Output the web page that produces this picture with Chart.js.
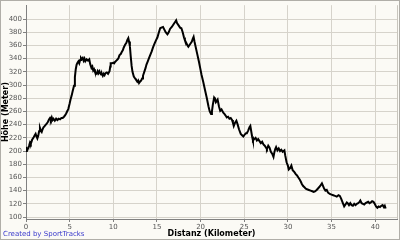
<!DOCTYPE html>
<html>
<head>
<meta charset="utf-8">
<script src="https://cdn.jsdelivr.net/npm/chart.js@4"></script>
<style>
  html, body { margin: 0; padding: 0; background: #fbfaf5; }
  #wrap { position: relative; width: 400px; height: 240px; }
  #credit { position: absolute; left: 3px; top: 230px; font: 7px "DejaVu Sans", sans-serif; color: #3a3acc; }
</style>
</head>
<body>
<div id="wrap">
  <canvas id="profil" width="400" height="240"></canvas>
  <div id="credit">Created by SportTracks</div>
</div>
<script>
// Höhenprofil
const km = [
  0.0, 0.1, 0.2, 0.35, 0.46, 0.55, 0.7, 0.85, 1.0, 1.1, 1.2, 1.3, 1.4, 1.5, 1.6, 1.7, 1.8, 1.9, 2.0, 2.1,
  2.2, 2.35, 2.5, 2.65, 2.75, 2.85, 2.95, 3.05, 3.15, 3.3, 3.45, 3.6, 3.75, 3.9, 4.05, 4.2, 4.35, 4.47, 4.6, 4.75,
  4.85, 5.0, 5.1, 5.23, 5.35, 5.5, 5.6, 5.7, 5.8, 5.9, 6.0, 6.1, 6.2, 6.3, 6.4, 6.5, 6.6, 6.7, 6.8, 6.95,
  7.1, 7.25, 7.35, 7.5, 7.6, 7.7, 7.8, 7.9, 8.0, 8.1, 8.2, 8.3, 8.4, 8.5, 8.6, 8.7, 8.8, 8.9, 9.0, 9.1,
  9.26, 9.4, 9.57, 9.65, 9.7, 9.85, 10.0, 10.1, 10.2, 10.35, 10.5, 10.6, 10.7, 10.85, 10.97, 11.1, 11.2, 11.35, 11.5, 11.6,
  11.72, 11.8, 11.9, 12.0, 12.1, 12.2, 12.35, 12.5, 12.6, 12.75, 12.85, 12.95, 13.06, 13.2, 13.3, 13.4, 13.55, 13.7, 13.8, 13.95,
  14.1, 14.25, 14.4, 14.55, 14.7, 14.8, 14.9, 15.05, 15.2, 15.37, 15.5, 15.7, 15.85, 16.0, 16.2, 16.35, 16.5, 16.7, 16.85, 17.0,
  17.1, 17.2, 17.3, 17.5, 17.65, 17.8, 17.95, 18.1, 18.2, 18.35, 18.5, 18.6, 18.75, 18.85, 19.0, 19.1, 19.2, 19.3, 19.4, 19.6,
  19.8, 19.95, 20.1, 20.3, 20.5, 20.7, 20.9, 21.05, 21.2, 21.3, 21.4, 21.55, 21.65, 21.75, 21.85, 21.95, 22.1, 22.25, 22.4, 22.6,
  22.75, 22.9, 23.0, 23.15, 23.3, 23.45, 23.6, 23.7, 23.8, 23.95, 24.1, 24.25, 24.4, 24.6, 24.75, 24.9, 25.05, 25.2, 25.3, 25.45,
  25.6, 25.7, 25.8, 25.9, 26.0, 26.15, 26.3, 26.45, 26.6, 26.75, 26.9, 27.05, 27.2, 27.35, 27.5, 27.6, 27.75, 27.9, 28.05, 28.2,
  28.35, 28.45, 28.55, 28.65, 28.8, 28.95, 29.1, 29.25, 29.4, 29.6, 29.7, 29.85, 30.0, 30.1, 30.25, 30.4, 30.55, 30.75, 30.9, 31.05,
  31.2, 31.35, 31.5, 31.6, 31.75, 31.9, 32.05, 32.2, 32.4, 32.6, 32.8, 32.95, 33.1, 33.3, 33.5, 33.7, 33.9, 34.0, 34.15, 34.3,
  34.45, 34.6, 34.8, 35.0, 35.2, 35.4, 35.6, 35.8, 35.95, 36.1, 36.3, 36.45, 36.6, 36.75, 36.85, 37.0, 37.15, 37.3, 37.45, 37.6,
  37.75, 37.9, 38.05, 38.2, 38.3, 38.45, 38.6, 38.75, 38.9, 39.05, 39.2, 39.35, 39.5, 39.65, 39.8, 39.95, 40.1, 40.25, 40.4, 40.55,
  40.7, 40.85, 41.0, 41.1, 41.2
];
const hoehe = [
  200, 204, 203, 208, 213, 211, 217, 220, 224, 226, 222, 219, 223, 230, 235, 231, 229, 233, 236, 237,
  239, 241, 244, 248, 250, 247, 251, 247, 249, 246, 249, 247, 249, 248, 250, 250, 252, 254, 257, 261,
  264, 272, 278, 284, 291, 299, 312, 324, 331, 334, 336, 333, 338, 341, 339, 341, 337, 340, 336, 339,
  337, 339, 332, 326, 328, 322, 324, 320, 318, 317, 321, 318, 321, 318, 316, 317, 314, 317, 315, 318,
  319, 317, 321, 328, 333, 333, 334, 333, 335, 337, 339, 341, 345, 347, 350, 353, 357, 361, 364, 368,
  371, 366, 359, 343, 329, 320, 313, 310, 308, 305, 307, 303, 305, 307, 310, 314, 320, 326, 331, 336,
  341, 346, 351, 357, 362, 365, 368, 372, 379, 386, 387, 388, 384, 380, 377, 380, 385, 388, 391, 394,
  396, 398, 394, 390, 387, 386, 380, 372, 368, 364, 360, 358, 361, 363, 366, 370, 373, 366, 360, 348,
  336, 326, 316, 305, 293, 281, 268, 260, 256, 260, 270, 281, 279, 274, 276, 278, 268, 261, 263, 258,
  256, 253, 251, 252, 249, 250, 247, 243, 238, 243, 246, 240, 233, 226, 224, 222, 225, 227, 227, 231,
  236, 238, 230, 222, 216, 218, 220, 216, 218, 215, 212, 214, 210, 208, 205, 203, 208, 205, 199, 196,
  191, 198, 203, 206, 201, 204, 200, 202, 199, 201, 193, 183, 178, 172, 174, 178, 171, 168, 165, 163,
  160, 157, 153, 150, 147, 145, 143, 142, 141, 140, 139, 138, 139, 141, 144, 147, 151, 148, 143, 140,
  141, 137, 135, 134, 133, 132, 131, 133, 132, 128, 121, 116, 119, 122, 121, 118, 121, 118, 117, 120,
  118, 120, 121, 123, 125, 121, 120, 119, 121, 122, 123, 121, 122, 124, 123, 120, 116, 114, 116, 115,
  117, 118, 115, 117, 113
];
const xTicks = [0, 5, 10, 15, 20, 25, 30, 35, 40];
const yTicks = [100, 120, 140, 160, 180, 200, 220, 240, 260, 280, 300, 320, 340, 360, 380, 400];

const punkte = km.map((x, i) => ({ x: x, y: hoehe[i] }));

const rahmen = {
  id: 'rahmen',
  beforeDraw(chart) {
    const ctx = chart.ctx;
    ctx.save();
    ctx.fillStyle = '#fbfaf5';
    ctx.fillRect(0, 0, chart.width, chart.height);
    ctx.restore();
  },
  afterDraw(chart) {
    const ctx = chart.ctx;
    const a = chart.chartArea;
    ctx.save();
    ctx.strokeStyle = '#c8c5bd';
    ctx.lineWidth = 1;
    ctx.beginPath();
    ctx.moveTo(Math.round(a.right) + 0.5, a.top);
    ctx.lineTo(Math.round(a.right) + 0.5, a.bottom);
    ctx.stroke();
    ctx.strokeStyle = '#b0aea8';
    ctx.strokeRect(0.5, 0.5, chart.width - 1, chart.height - 1);
    ctx.restore();
  }
};

const tickFont = { family: 'DejaVu Sans', size: 7 };

new Chart(document.getElementById('profil'), {
  type: 'line',
  data: {
    datasets: [{
      label: 'Höhe',
      data: punkte,
      borderColor: '#000000',
      borderWidth: 2,
      pointRadius: 0,
      tension: 0,
      fill: false
    }]
  },
  options: {
    responsive: false,
    devicePixelRatio: 1,
    animation: false,
    layout: { padding: { top: 3, right: 3, left: 0, bottom: 0 } },
    plugins: {
      legend: { display: false },
      tooltip: { enabled: false }
    },
    scales: {
      x: {
        type: 'linear',
        min: 0,
        max: 42.5,
        afterBuildTicks: s => { s.ticks = xTicks.map(v => ({ value: v })); },
        afterFit: s => { s.height = 21; },
        grid: { color: '#d6d3cb', tickColor: '#808080', tickLength: 3 },
        border: { color: '#808080' },
        ticks: { font: tickFont, color: '#555555', padding: 1, maxRotation: 0, autoSkip: false },
        title: {
          display: true,
          text: 'Distanz (Kilometer)',
          font: { family: 'DejaVu Sans', size: 8, weight: 'bold' },
          color: '#000000',
          padding: { top: 0, bottom: 1 }
        }
      },
      y: {
        min: 97,
        max: 421,
        afterBuildTicks: s => { s.ticks = yTicks.map(v => ({ value: v })); },
        afterFit: s => { s.width = 26; },
        grid: { color: '#d6d3cb', tickColor: '#808080', tickLength: 3 },
        border: { color: '#808080' },
        ticks: { font: tickFont, color: '#555555', padding: 1, autoSkip: false },
        title: {
          display: true,
          text: 'Höhe (Meter)',
          font: { family: 'DejaVu Sans', size: 8, weight: 'bold' },
          color: '#000000',
          padding: { top: 1, bottom: 0 }
        }
      }
    }
  },
  plugins: [rahmen]
});
</script>
</body>
</html>
